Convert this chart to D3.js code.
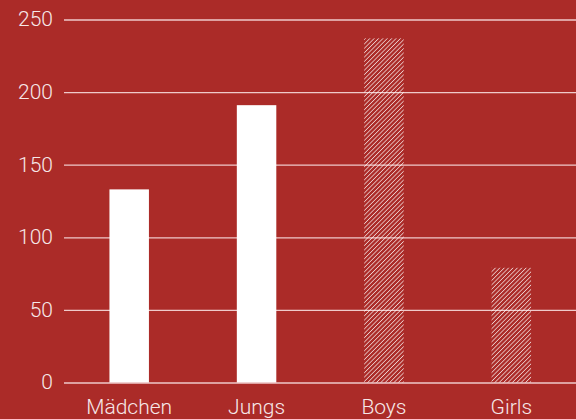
<!DOCTYPE html>
<html><head><meta charset="utf-8">
<script src="https://cdn.jsdelivr.net/npm/d3@7"></script>
<style>html,body{margin:0;padding:0;background:#ab2b28;}svg{display:block;}</style>
</head><body>
<svg id="c" width="576" height="419"></svg>
<script>
const categories = ["Mädchen", "Jungs", "Boys", "Girls"];
const values = [133, 191, 237, 79];
const hatched = [false, false, true, true];
const yTicks = [0, 50, 100, 150, 200, 250];

const W = 576, H = 419;
const svg = d3.select("#c");
svg.append("rect").attr("width", W).attr("height", H).attr("fill", "#ab2b28");

const defs = svg.append("defs");
const pat = defs.append("pattern").attr("id", "hatch").attr("patternUnits", "userSpaceOnUse")
  .attr("width", 3.1).attr("height", 3.1).attr("patternTransform", "rotate(45)");
pat.append("line").attr("x1", 0).attr("y1", 0).attr("x2", 0).attr("y2", 3.1)
  .attr("stroke", "#fff").attr("stroke-width", 1.2);

const x = d3.scaleBand().domain(categories).range([65.5, 575]).paddingInner(0.69).paddingOuter(0.345);
const y = d3.scaleLinear().domain([0, 250]).range([382.5, 19.5]);

const font = "Roboto, 'Noto Sans', sans-serif";
const yAxis = svg.append("g").attr("transform", "translate(64,0)")
  .call(d3.axisLeft(y).tickValues(yTicks).tickSize(-512).tickPadding(11));
yAxis.select(".domain").remove();
yAxis.selectAll(".tick line").attr("stroke", "#efcaca").attr("stroke-width", 1.3);
yAxis.selectAll(".tick text").attr("fill", "#f6e8e8").attr("font-size", 21).attr("font-weight", 300)
  .attr("font-family", font).attr("dy", "0.3em");

svg.append("g").selectAll("rect").data(categories).join("rect")
  .attr("x", d => x(d)).attr("width", x.bandwidth())
  .attr("y", (d, i) => y(values[i])).attr("height", (d, i) => y(0) - y(values[i]))
  .attr("fill", (d, i) => hatched[i] ? "url(#hatch)" : "#ffffff");

const xAxis = svg.append("g").attr("transform", "translate(0,382.5)")
  .call(d3.axisBottom(x).tickSize(0).tickPadding(17));
xAxis.select(".domain").remove();
xAxis.selectAll(".tick text").attr("fill", "#f6e8e8").attr("font-size", 21).attr("font-weight", 300)
  .attr("font-family", font);
</script>
</body></html>
